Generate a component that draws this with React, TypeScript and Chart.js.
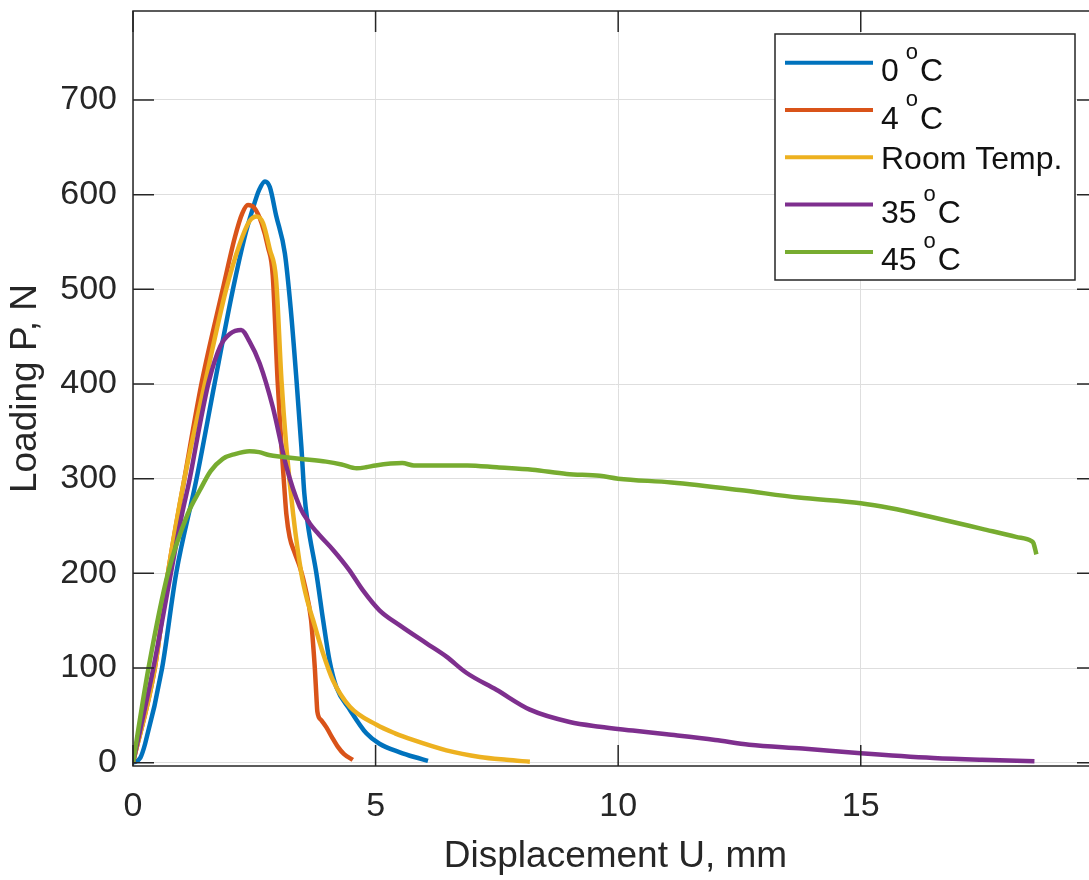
import React, { useEffect, useRef } from "react";
import { Chart, registerables } from "chart.js";

Chart.register(...registerables);

// ---- axis definitions ----
const X_TICKS = [0, 5, 10, 15];
const Y_TICKS = [0, 100, 200, 300, 400, 500, 600, 700];
const X_MIN = 0;
const X_MAX = 19.89;
const Y_MIN = -3.5;
const Y_MAX = 794;
const X_TITLE = "Displacement U, mm";
const Y_TITLE = "Loading P, N";

// ---- series ----
const SERIES_LABELS = ["0 °C", "4 °C", "Room Temp.", "35 °C", "45 °C"];
const SERIES_COLORS = ["#0072BD", "#D95319", "#EDB120", "#7E2F8E", "#77AC30"];

const X_0C = [0, 0.15, 0.25, 0.6, 0.89, 1.31, 1.68, 2.06, 2.3, 2.45, 2.6, 2.72, 2.82, 2.95, 3.13, 3.25, 3.37, 3.47, 3.53, 3.6, 3.78, 3.92, 4.05, 4.19, 4.47, 4.81, 5.08, 5.5, 5.8, 6.08];
const Y_0C = [0, 5, 20, 100, 200, 300, 400, 500, 555, 582, 605, 614, 608, 578, 538, 480, 404, 334, 285, 253, 200, 150, 108, 80, 56, 31, 20, 11, 6, 2];

const X_4C = [0, 0.45, 0.72, 1.06, 1.41, 1.85, 2.1, 2.25, 2.37, 2.5, 2.65, 2.78, 2.88, 2.98, 3.06, 3.12, 3.16, 3.23, 3.33, 3.45, 3.55, 3.67, 3.72, 3.75, 3.78, 3.8, 3.88, 3.99, 4.1, 4.22, 4.35, 4.53];
const Y_4C = [0, 100, 200, 300, 400, 500, 555, 580, 589, 586, 570, 545, 515, 404, 334, 290, 263, 238, 222, 205, 185, 151, 120, 98, 70, 54, 45, 37, 27, 17, 9, 3];

const X_RT = [0, 0.45, 0.72, 1.06, 1.48, 1.92, 2.2, 2.4, 2.55, 2.68, 2.82, 2.95, 3.06, 3.16, 3.3, 3.47, 3.6, 3.71, 3.92, 4.12, 4.47, 5.02, 5.4, 5.77, 6.46, 7.15, 7.7, 8.18];
const Y_RT = [0, 100, 200, 300, 400, 500, 548, 572, 577, 570, 542, 510, 404, 334, 263, 200, 170, 151, 115, 87, 59, 40, 31, 24, 13, 6, 3, 1];

const X_35C = [0, 0.42, 0.78, 1.0, 1.17, 1.37, 1.56, 1.8, 2.0, 2.23, 2.4, 2.61, 2.88, 3.16, 3.44, 3.64, 3.85, 4.12, 4.45, 4.74, 5.08, 5.5, 6.05, 6.46, 6.87, 7.49, 8.18, 9.0, 9.62, 10.3, 11.0, 12.0, 12.7, 13.8, 15.0, 16.5, 17.5, 18.58];
const Y_35C = [0, 100, 200, 260, 300, 355, 402, 440, 453, 457, 445, 422, 376, 313, 270, 253, 240, 225, 204, 182, 161, 145, 126, 112, 95, 77, 56, 43, 38, 34, 30, 24, 19, 15, 10, 5, 3, 1.5];

const X_45C = [0, 0.32, 0.72, 1.13, 1.38, 1.6, 1.85, 2.1, 2.4, 2.6, 2.8, 3.1, 3.43, 3.98, 4.3, 4.61, 4.8, 5.0, 5.55, 5.79, 6.3, 6.89, 7.5, 8.23, 8.94, 9.62, 10.0, 11.1, 12.5, 13.72, 15.0, 15.6, 16.5, 17.5, 18.2, 18.52, 18.56, 18.62];
const Y_45C = [0, 100, 200, 263, 288, 308, 321, 326, 329, 328, 325, 323, 321, 318, 315, 311, 312, 314, 316.5, 314, 314, 314, 312, 309.5, 305, 303, 300, 296, 288, 280, 274, 269, 259, 247, 238.5, 234, 232, 220];

const SERIES_X = [X_0C, X_4C, X_RT, X_35C, X_45C];
const SERIES_Y = [Y_0C, Y_4C, Y_RT, Y_35C, Y_45C];

const FONT = "'Liberation Sans', Arial, Helvetica, sans-serif";
const AXIS_COLOR = "#262626";
const GRID_COLOR = "#dedede";

const axesBoxPlugin = {
  id: "axesBox",
  afterDatasetsDraw(chart: any) {
    const { ctx, chartArea: a, scales } = chart;
    const xs = scales.x;
    const ys = scales.y;
    const TL = 21;
    ctx.save();
    ctx.strokeStyle = AXIS_COLOR;
    ctx.lineWidth = 1.5;
    ctx.beginPath();
    X_TICKS.forEach((v) => {
      const px = xs.getPixelForValue(v);
      ctx.moveTo(px, a.bottom);
      ctx.lineTo(px, a.bottom - TL);
      ctx.moveTo(px, a.top);
      ctx.lineTo(px, a.top + TL);
    });
    Y_TICKS.forEach((v) => {
      const py = ys.getPixelForValue(v);
      ctx.moveTo(a.left, py);
      ctx.lineTo(a.left + TL, py);
      ctx.moveTo(a.right, py);
      ctx.lineTo(a.right - TL, py);
    });
    ctx.stroke();
    ctx.strokeRect(a.left, a.top, a.right - a.left, a.bottom - a.top);
    ctx.restore();
  },
};

const legendPlugin = {
  id: "matlabLegend",
  afterDraw(chart: any) {
    const { ctx, chartArea: a } = chart;
    const boxRight = a.right - 23;
    const boxTop = a.top + 23;
    const boxW = 300;
    const boxH = 246;
    const boxLeft = boxRight - boxW;
    ctx.save();
    ctx.fillStyle = "#ffffff";
    ctx.fillRect(boxLeft, boxTop, boxW, boxH);
    ctx.strokeStyle = AXIS_COLOR;
    ctx.lineWidth = 1.5;
    ctx.strokeRect(boxLeft, boxTop, boxW, boxH);
    chart.data.datasets.forEach((ds: any, i: number) => {
      const rowY = boxTop + 28.7 + i * 47.3;
      ctx.strokeStyle = ds.borderColor;
      ctx.lineWidth = 4;
      ctx.beginPath();
      ctx.moveTo(boxLeft + 10, rowY);
      ctx.lineTo(boxLeft + 98, rowY);
      ctx.stroke();
      const tx = boxLeft + 106;
      ctx.fillStyle = "#111111";
      ctx.textBaseline = "alphabetic";
      ctx.textAlign = "left";
      const label: string = ds.label;
      const idx = label.indexOf("°");
      if (idx < 0) {
        ctx.font = `32px ${FONT}`;
        ctx.fillText(label, tx, rowY + 11.5);
      } else {
        const head = label.slice(0, idx);
        const tail = label.slice(idx + 1);
        ctx.font = `32px ${FONT}`;
        ctx.fillText(head, tx, rowY + 18.5);
        const hw = ctx.measureText(head).width - 2;
        ctx.font = `22px ${FONT}`;
        ctx.fillText("o", tx + hw, rowY - 3.7);
        const ow = ctx.measureText("o").width + 2;
        ctx.font = `32px ${FONT}`;
        ctx.fillText(tail, tx + hw + ow, rowY + 18.5);
      }
    });
    ctx.restore();
  },
};

export default function App() {
  const ref = useRef<HTMLCanvasElement | null>(null);

  useEffect(() => {
    if (!ref.current) return;
    const datasets = SERIES_LABELS.map((label, i) => ({
      label,
      data: SERIES_X[i].map((x, j) => ({ x, y: SERIES_Y[i][j] })),
      borderColor: SERIES_COLORS[i],
      backgroundColor: SERIES_COLORS[i],
      borderWidth: 4.5,
      pointRadius: 0,
      fill: false,
      cubicInterpolationMode: "monotone" as const,
      order: SERIES_LABELS.length - i,
    }));

    const tickFont = { family: FONT, size: 34 };
    const titleFont = { family: FONT, size: 37 };

    const chart = new Chart(ref.current, {
      type: "line",
      data: { datasets },
      options: {
        animation: false,
        responsive: false,
        maintainAspectRatio: false,
        devicePixelRatio: 1,
        layout: { padding: { left: 0, top: 11, right: 2, bottom: 0 } },
        plugins: {
          legend: { display: false },
          tooltip: { enabled: false },
        },
        scales: {
          x: {
            type: "linear",
            min: X_MIN,
            max: X_MAX,
            afterBuildTicks: (s: any) => {
              s.ticks = X_TICKS.map((v) => ({ value: v }));
            },
            afterFit: (s: any) => {
              s.height = 114;
              s.paddingLeft = 0;
              s.paddingRight = 0;
            },
            grid: { color: GRID_COLOR, lineWidth: 1, drawTicks: false },
            border: { display: false },
            ticks: {
              padding: 20,
              font: tickFont,
              color: AXIS_COLOR,
              maxRotation: 0,
              autoSkip: false,
              callback: (v: any) => String(v),
            },
            title: {
              display: true,
              text: X_TITLE,
              font: titleFont,
              color: AXIS_COLOR,
              padding: { top: 0, bottom: 1.5 },
            },
          },
          y: {
            type: "linear",
            min: Y_MIN,
            max: Y_MAX,
            afterBuildTicks: (s: any) => {
              s.ticks = Y_TICKS.map((v) => ({ value: v }));
            },
            afterFit: (s: any) => {
              s.width = 133;
              s.paddingTop = 0;
              s.paddingBottom = 0;
            },
            grid: { color: GRID_COLOR, lineWidth: 1, drawTicks: false },
            border: { display: false },
            ticks: {
              padding: 16,
              font: tickFont,
              color: AXIS_COLOR,
              autoSkip: false,
              callback: (v: any) => String(v),
            },
            title: {
              display: true,
              text: Y_TITLE,
              font: titleFont,
              color: AXIS_COLOR,
              padding: { top: 3.8, bottom: 0 },
            },
          },
        },
      },
      plugins: [axesBoxPlugin, legendPlugin],
    } as any);

    return () => chart.destroy();
  }, []);

  return (
    <div
      style={{
        position: "fixed",
        left: 0,
        top: 0,
        width: 1089,
        height: 880,
        overflow: "hidden",
        background: "#ffffff",
      }}
    >
      <canvas ref={ref} width={1100} height={880} style={{ display: "block" }} />
    </div>
  );
}
